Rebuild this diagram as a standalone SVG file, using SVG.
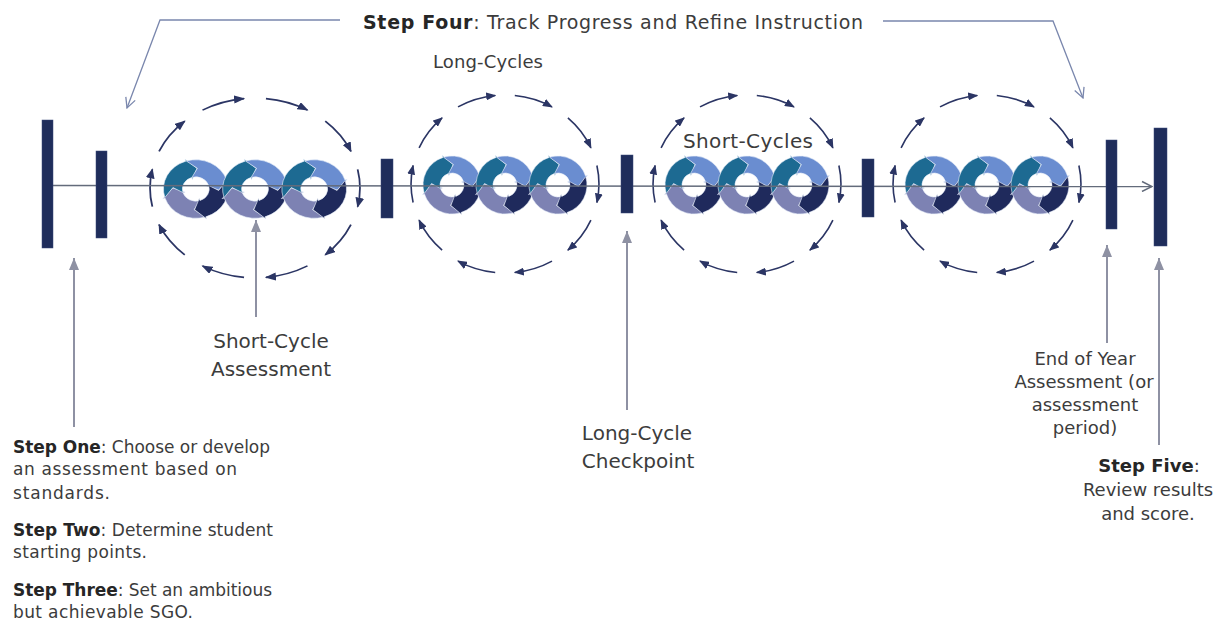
<svg xmlns="http://www.w3.org/2000/svg" xmlns:xlink="http://www.w3.org/1999/xlink" width="1222" height="622" viewBox="0 0 1222 622">
<style>
.cyc{fill:none;stroke:#2b3564;stroke-width:1.6;marker-end:url(#mCyc)}
.seg{stroke:#e6edf8;stroke-width:0.6;stroke-linejoin:round}
.bar{fill:#1f2d5b;stroke:#3a4a7a;stroke-width:0.5}
.ptr{stroke:#8e91a3;stroke-width:2;fill:none;marker-end:url(#mPtr)}
.hdr{stroke:#7a87ad;stroke-width:1.3;fill:none;marker-end:url(#mOpenB)}
.axis{stroke:#636b7b;stroke-width:1.5;fill:none;marker-end:url(#mOpenG)}
text{font-family:"DejaVu Sans","Liberation Sans",sans-serif;fill:#3c3c3c}
.b{font-weight:bold;fill:#262626}
</style>
<defs>
<marker id="mCyc" viewBox="0 0 10 8" refX="9" refY="4" markerWidth="10" markerHeight="8" markerUnits="userSpaceOnUse" orient="auto"><path d="M0,0 L10,4 L0,8 Z" fill="#2b3564"/></marker>
<marker id="mPtr" viewBox="0 0 12 10" refX="12" refY="5" markerWidth="12" markerHeight="10" markerUnits="userSpaceOnUse" orient="auto"><path d="M0,0 L12,5 L0,10 Z" fill="#8e91a3"/></marker>
<marker id="mOpenB" viewBox="0 0 12 12" refX="11" refY="6" markerWidth="12" markerHeight="12" markerUnits="userSpaceOnUse" orient="auto"><path d="M1,1 L11,6 L1,11" fill="none" stroke="#7a87ad" stroke-width="1.3"/></marker>
<marker id="mOpenG" viewBox="0 0 12 12" refX="11" refY="6" markerWidth="12" markerHeight="12" markerUnits="userSpaceOnUse" orient="auto"><path d="M1,1 L11,6 L1,11" fill="none" stroke="#636b7b" stroke-width="1.5"/></marker>
<path id="seg" class="seg" d="M -27.73 8.48 A 29 29 0 0 1 -8.96 -27.58 L -9.58 -29.48 L 1.07 -20.47 L -3.09 -9.51 L -3.71 -11.41 A 12 12 0 0 0 -11.48 3.51 L -20.45 -1.43 Z"/>
<g id="ring">
<use href="#seg" fill="#7d82b3" transform="rotate(270)"/>
<use href="#seg" fill="#1d6a92"/>
<use href="#seg" fill="#6a8dd0" transform="rotate(90)"/>
<use href="#seg" fill="#1f2a5c" transform="rotate(180)"/>
</g>
<g id="cycleArrows">
<path class="cyc" d="M -85.9 -36.2 A 94 89 0 0 1 -62.9 -66.1"/>
<path class="cyc" d="M -47.0 -77.1 A 94 89 0 0 1 -9.8 -88.5"/>
<path class="cyc" d="M 9.8 -88.5 A 94 89 0 0 1 47.0 -77.1"/>
<path class="cyc" d="M 62.9 -66.1 A 94 89 0 0 1 85.9 -36.2"/>
<path class="cyc" d="M 91.9 -18.5 A 94 89 0 0 1 91.9 18.5"/>
<path class="cyc" d="M 85.9 36.2 A 94 89 0 0 1 62.9 66.1"/>
<path class="cyc" d="M 47.0 77.1 A 94 89 0 0 1 9.8 88.5"/>
<path class="cyc" d="M -9.8 88.5 A 94 89 0 0 1 -47.0 77.1"/>
<path class="cyc" d="M -62.9 66.1 A 94 89 0 0 1 -85.9 36.2"/>
<path class="cyc" d="M -91.9 18.5 A 94 89 0 0 1 -91.9 -18.5"/>
</g>
<g id="cycle">
<use href="#cycleArrows"/>
<use href="#ring" x="-53" y="1"/>
<use href="#ring" x="0" y="1"/>
<use href="#ring" x="53" y="1"/>
</g>
</defs>
<rect width="1222" height="622" fill="#ffffff"/>

<g id="cycle-1"><use href="#cycle" transform="translate(255,188) scale(1.117,1.01)"/></g>
<g id="cycle-2"><use href="#cycle" transform="translate(505,184)"/></g>
<g id="cycle-3"><use href="#cycle" transform="translate(747,184)"/></g>
<g id="cycle-4"><use href="#cycle" transform="translate(987,184)"/></g>

<g id="connectors">
<path class="axis" d="M 53 185.5 L 1152 186.5"/>
<path class="ptr" d="M 74 427 L 74 258"/>
<path class="ptr" d="M 256 317 L 256 220"/>
<path class="ptr" d="M 627 410 L 627 231"/>
<path class="ptr" d="M 1107 343 L 1107 245"/>
<path class="ptr" d="M 1159 445 L 1159 258"/>
<path class="hdr" d="M 340 20 L 160 20 L 127 108"/>
<path class="hdr" d="M 883 21 L 1053 21 L 1083 98"/>
</g>

<g id="bar-start"><rect class="bar" x="42" y="120" width="11" height="128"/></g>
<g id="bar-baseline"><rect class="bar" x="96" y="151" width="11" height="87"/></g>
<g id="bar-check-1"><rect class="bar" x="381" y="159" width="12" height="59"/></g>
<g id="bar-long-cycle"><rect class="bar" x="621" y="155" width="12" height="58"/></g>
<g id="bar-check-3"><rect class="bar" x="862" y="159" width="12" height="58"/></g>
<g id="bar-end-year"><rect class="bar" x="1106" y="140" width="11" height="89"/></g>
<g id="bar-final"><rect class="bar" x="1154" y="128" width="13" height="118"/></g>

<g id="label-step-four"><text x="363" y="29" font-size="19" textLength="500" lengthAdjust="spacing"><tspan class="b">Step Four</tspan>: Track Progress and Refine Instruction</text></g>
<g id="label-long-cycles"><text x="433" y="68" font-size="18" textLength="110" lengthAdjust="spacing">Long-Cycles</text></g>
<g id="label-short-cycles"><text x="683" y="148" font-size="20" textLength="130" lengthAdjust="spacing">Short-Cycles</text></g>
<g id="label-short-cycle-assessment">
<text x="271" y="348" font-size="20" text-anchor="middle">Short-Cycle</text>
<text x="271" y="376" font-size="20" text-anchor="middle">Assessment</text>
</g>
<g id="label-long-cycle-checkpoint">
<text x="637" y="440" font-size="20" text-anchor="middle">Long-Cycle</text>
<text x="638" y="468" font-size="20" text-anchor="middle">Checkpoint</text>
</g>
<g id="label-steps-one-three" font-size="17">
<text x="13" y="453" textLength="257" lengthAdjust="spacing"><tspan class="b">Step One</tspan>: Choose or develop</text>
<text x="13" y="475" textLength="224" lengthAdjust="spacing">an assessment based on</text>
<text x="13" y="499" textLength="97" lengthAdjust="spacing">standards.</text>
<text x="13" y="536" textLength="260" lengthAdjust="spacing"><tspan class="b">Step Two</tspan>: Determine student</text>
<text x="13" y="558" textLength="134" lengthAdjust="spacing">starting points.</text>
<text x="13" y="596" textLength="259" lengthAdjust="spacing"><tspan class="b">Step Three</tspan>: Set an ambitious</text>
<text x="13" y="618" textLength="180" lengthAdjust="spacing">but achievable SGO.</text>
</g>
<g id="label-end-of-year" font-size="18" text-anchor="middle">
<text x="1085" y="365">End of Year</text>
<text x="1084" y="388">Assessment (or</text>
<text x="1085" y="411">assessment</text>
<text x="1085" y="434">period)</text>
</g>
<g id="label-step-five" font-size="18" text-anchor="middle">
<text x="1149" y="472" class="b">Step Five<tspan style="font-weight:normal;fill:#3c3c3c">:</tspan></text>
<text x="1148" y="496">Review results</text>
<text x="1148" y="520">and score.</text>
</g>
</svg>
